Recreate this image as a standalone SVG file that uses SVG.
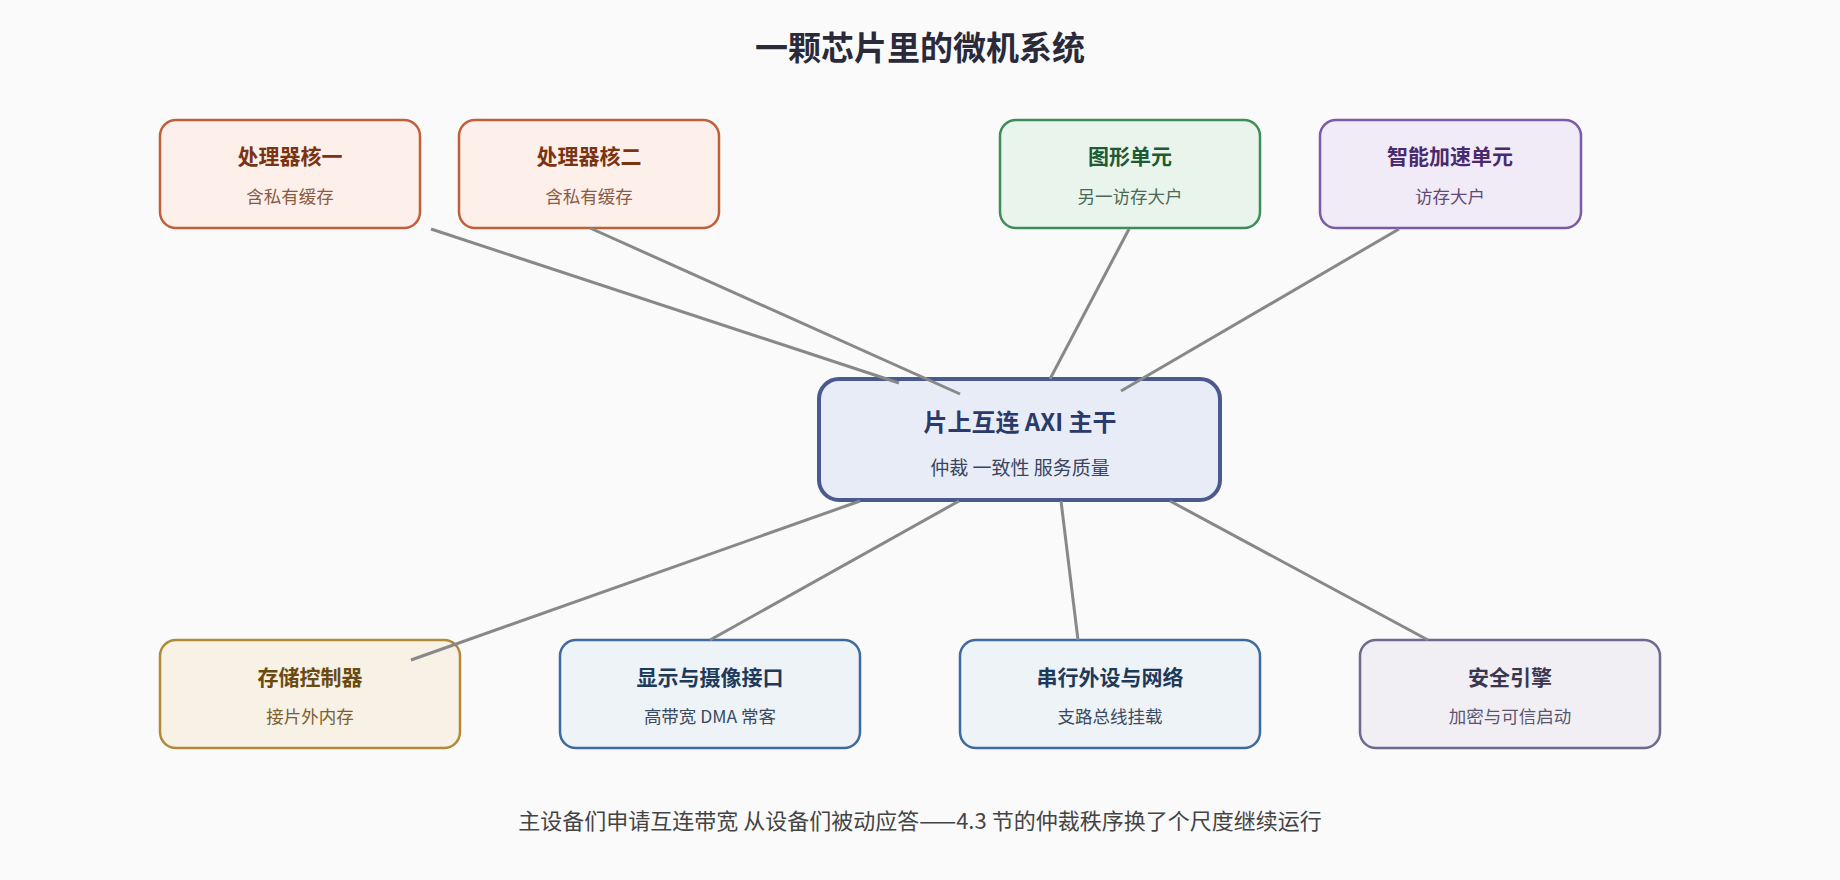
<svg xmlns="http://www.w3.org/2000/svg" width="1840" height="880" viewBox="0 0 1840 880">
<style>
text{font-family:"Noto Sans CJK SC","Noto Sans",sans-serif;text-anchor:middle}
.t{font-size:21px;font-weight:bold}
.s{font-size:17.5px}
rect{stroke-width:2.5}
.c line{stroke:#888;stroke-width:3}
</style>
<rect width="1840" height="880" fill="#fafafa"/>
<text x="920" y="60" style="font-size:33px;font-weight:bold" fill="#2a2a3a">一颗芯片里的微机系统</text>
<g id="cpu1"><rect x="160" y="120" width="260" height="108" rx="16" fill="#fdf0ea" stroke="#c0603a"/><text class="t" x="290" y="164" fill="#7a3414">处理器核一</text><text class="s" x="290" y="203" fill="#8a5a45">含私有缓存</text></g>
<g id="cpu2"><rect x="459" y="120" width="260" height="108" rx="16" fill="#fdf0ea" stroke="#c0603a"/><text class="t" x="589" y="164" fill="#7a3414">处理器核二</text><text class="s" x="589" y="203" fill="#8a5a45">含私有缓存</text></g>
<g id="gpu"><rect x="1000" y="120" width="260" height="108" rx="16" fill="#e9f5ec" stroke="#3d8c5a"/><text class="t" x="1130" y="164" fill="#1e5a33">图形单元</text><text class="s" x="1130" y="203" fill="#4a6a55">另一访存大户</text></g>
<g id="npu"><rect x="1320" y="120" width="261" height="108" rx="16" fill="#f1eaf7" stroke="#7b5aa6"/><text class="t" x="1450" y="164" fill="#4a2a6e">智能加速单元</text><text class="s" x="1450" y="203" fill="#5e4a75">访存大户</text></g>
<g id="axi"><rect x="819" y="379" width="401" height="121" rx="20" fill="#e8ecf7" stroke="#4a5a8e" stroke-width="4" style="stroke-width:4"/><text x="1020" y="431" style="font-size:24px;font-weight:bold" fill="#2a3a6a">片上互连 AXI 主干</text><text x="1020" y="475" style="font-size:19px" fill="#3a4560">仲裁 一致性 服务质量</text></g>
<g id="mem"><rect x="160" y="640" width="300" height="108" rx="16" fill="#f7f1e6" stroke="#b08a3a"/><text class="t" x="310" y="685" fill="#6a4a10">存储控制器</text><text class="s" x="310" y="723" fill="#7a6030">接片外内存</text></g>
<g id="disp"><rect x="560" y="640" width="300" height="108" rx="16" fill="#eef3f8" stroke="#3e6a9e"/><text class="t" x="710" y="685" fill="#1e3a5a">显示与摄像接口</text><text class="s" x="710" y="723" fill="#3a4a60">高带宽 DMA 常客</text></g>
<g id="io"><rect x="960" y="640" width="300" height="108" rx="16" fill="#eef3f8" stroke="#3e6a9e"/><text class="t" x="1110" y="685" fill="#1e3a5a">串行外设与网络</text><text class="s" x="1110" y="723" fill="#3a4a60">支路总线挂载</text></g>
<g id="sec"><rect x="1360" y="640" width="300" height="108" rx="16" fill="#f1eff4" stroke="#6e6a8e"/><text class="t" x="1510" y="685" fill="#3a3650">安全引擎</text><text class="s" x="1510" y="723" fill="#5a5670">加密与可信启动</text></g>
<g class="c" id="connectors">
<line x1="431" y1="229" x2="899" y2="383"/>
<line x1="590" y1="228" x2="960" y2="394"/>
<line x1="1129" y1="229" x2="1050" y2="379"/>
<line x1="1399" y1="229" x2="1121" y2="391"/>
<line x1="860" y1="501" x2="411" y2="660"/>
<line x1="959" y1="501" x2="710" y2="640"/>
<line x1="1061" y1="501" x2="1078" y2="640"/>
<line x1="1170" y1="501" x2="1428" y2="640"/>
</g>
<text x="920" y="829" style="font-size:22px" fill="#444">主设备们申请互连带宽 从设备们被动应答——4.3 节的仲裁秩序换了个尺度继续运行</text>
</svg>
